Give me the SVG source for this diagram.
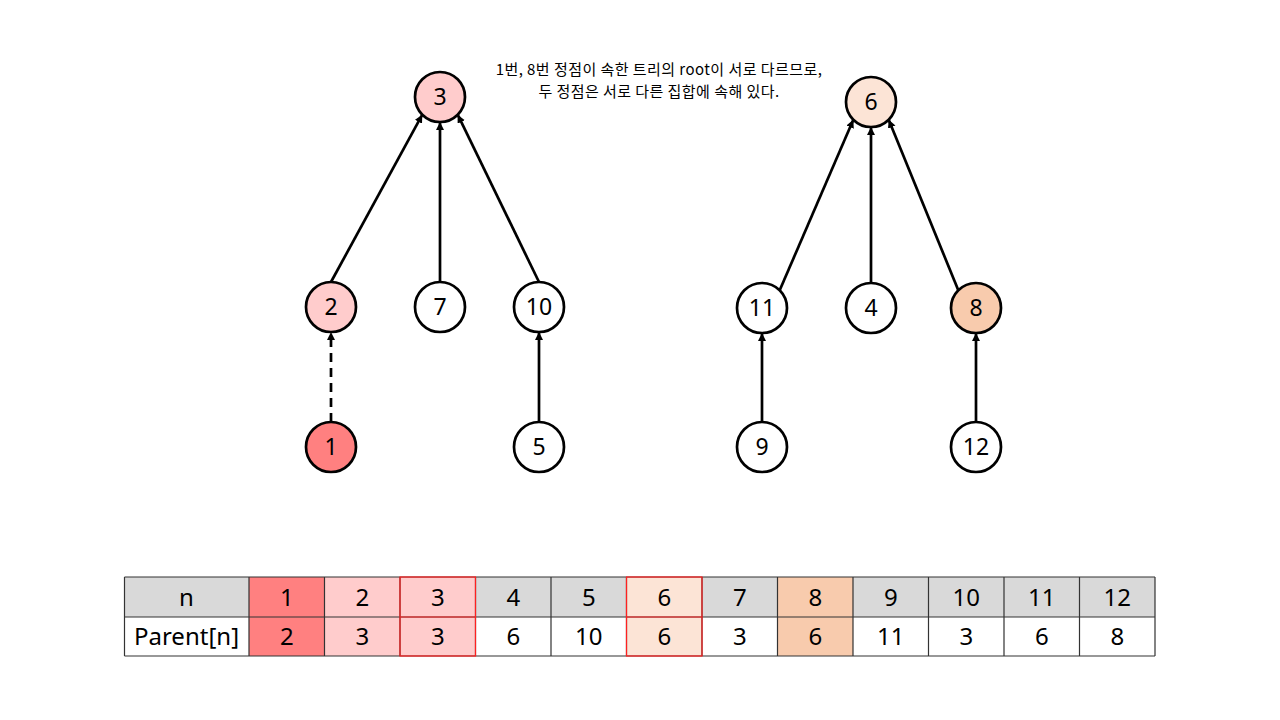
<svg xmlns="http://www.w3.org/2000/svg" width="1280" height="720" viewBox="0 0 1280 720">
<style>
.node circle{stroke:#000;stroke-width:2.7}
.node text{font-family:"Noto Sans","Noto Sans CJK KR",sans-serif;font-size:23px;text-anchor:middle;fill:#000}
.edge{stroke:#000;stroke-width:2.7;fill:none;marker-end:url(#arr)}
.dash{stroke-dasharray:9 6}
.cap{font-family:"Noto Sans CJK KR","Noto Sans",sans-serif;font-size:15px;letter-spacing:0.45px;text-anchor:middle;fill:#000}
.tt{font-family:"Noto Sans","Noto Sans CJK KR",sans-serif;font-size:24px;text-anchor:middle;fill:#000}
.grid{stroke:#333;stroke-width:1.2;fill:none}
.red{stroke:#ff2020;stroke-width:1.2;fill:none}
</style>
<defs>
<marker id="arr" markerUnits="userSpaceOnUse" markerWidth="10" markerHeight="10" refX="8" refY="4" orient="auto">
<path d="M0,0 L8,4 L0,8 z" fill="#000"/>
</marker>
</defs>
<rect width="1280" height="720" fill="#fff"/>
<g id="caption">
<text class="cap" x="659" y="74.5">1번, 8번 정점이 속한 트리의 root이 서로 다르므로,</text>
<text class="cap" x="659" y="96.5">두 정점은 서로 다른 집합에 속해 있다.</text>
</g>
<g id="connectors">
<line class="edge" x1="331" y1="282" x2="422.3" y2="114.7"/>
<line class="edge" x1="440" y1="282" x2="440" y2="122"/>
<line class="edge" x1="539" y1="282" x2="457.7" y2="114.7"/>
<line class="edge dash" x1="331" y1="422" x2="331" y2="332"/>
<line class="edge" x1="539" y1="422" x2="539" y2="332"/>
<line class="edge" x1="779.7" y1="290.3" x2="853.3" y2="119.7"/>
<line class="edge" x1="871" y1="283" x2="871" y2="127"/>
<line class="edge" x1="958.3" y1="290.3" x2="888.7" y2="119.7"/>
<line class="edge" x1="762" y1="422" x2="762" y2="333"/>
<line class="edge" x1="976" y1="422" x2="976" y2="333"/>
</g>
<g id="n3" class="node"><circle cx="440" cy="97" r="25" fill="#ffcccc"/><text x="440" y="105">3</text></g>
<g id="n2" class="node"><circle cx="331" cy="307" r="25" fill="#ffcccc"/><text x="331" y="315">2</text></g>
<g id="n7" class="node"><circle cx="440" cy="307" r="25" fill="#fff"/><text x="440" y="315">7</text></g>
<g id="n10" class="node"><circle cx="539" cy="307" r="25" fill="#fff"/><text x="539" y="315">10</text></g>
<g id="n1" class="node"><circle cx="331" cy="447" r="25" fill="#ff8080"/><text x="331" y="455">1</text></g>
<g id="n5" class="node"><circle cx="539" cy="447" r="25" fill="#fff"/><text x="539" y="455">5</text></g>
<g id="n6" class="node"><circle cx="871" cy="102" r="25" fill="#fce4d6"/><text x="871" y="110">6</text></g>
<g id="n11" class="node"><circle cx="762" cy="308" r="25" fill="#fff"/><text x="762" y="316">11</text></g>
<g id="n4" class="node"><circle cx="871" cy="308" r="25" fill="#fff"/><text x="871" y="316">4</text></g>
<g id="n8" class="node"><circle cx="976" cy="308" r="25" fill="#f8cbad"/><text x="976" y="316">8</text></g>
<g id="n9" class="node"><circle cx="762" cy="447" r="25" fill="#fff"/><text x="762" y="455">9</text></g>
<g id="n12" class="node"><circle cx="976" cy="447" r="25" fill="#fff"/><text x="976" y="455">12</text></g>
<g id="table">
<rect x="124.5" y="577" width="1030.5" height="40" fill="#d9d9d9"/>
<rect x="124.5" y="617" width="1030.5" height="39" fill="#fff"/>
<rect x="249" y="577" width="75.5" height="79" fill="#ff8080"/>
<rect x="324.5" y="577" width="151" height="79" fill="#ffcccc"/>
<rect x="626.5" y="577" width="75.5" height="79" fill="#fce4d6"/>
<rect x="777.5" y="577" width="75.5" height="79" fill="#f8cbad"/>
<path class="grid" d="M124.5,577H1155M124.5,617H1155M124.5,656H1155M124.5,577V656M249,577V656M324.5,577V656M400,577V656M475.5,577V656M551,577V656M626.5,577V656M702,577V656M777.5,577V656M853,577V656M928.5,577V656M1004,577V656M1079.5,577V656M1155,577V656"/>
<rect class="red" x="400" y="577" width="75.5" height="79"/>
<line class="red" x1="400" y1="617" x2="475.5" y2="617"/>
<rect class="red" x="626.5" y="577" width="75.5" height="79"/>
<line class="red" x1="626.5" y1="617" x2="702" y2="617"/>
<text class="tt" x="186.5" y="606">n</text>
<text class="tt" x="186.5" y="645">Parent[n]</text>
<text class="tt" x="286.75" y="606">1</text><text class="tt" x="286.75" y="645">2</text>
<text class="tt" x="362.25" y="606">2</text><text class="tt" x="362.25" y="645">3</text>
<text class="tt" x="437.75" y="606">3</text><text class="tt" x="437.75" y="645">3</text>
<text class="tt" x="513.25" y="606">4</text><text class="tt" x="513.25" y="645">6</text>
<text class="tt" x="588.75" y="606">5</text><text class="tt" x="588.75" y="645">10</text>
<text class="tt" x="664.25" y="606">6</text><text class="tt" x="664.25" y="645">6</text>
<text class="tt" x="739.75" y="606">7</text><text class="tt" x="739.75" y="645">3</text>
<text class="tt" x="815.25" y="606">8</text><text class="tt" x="815.25" y="645">6</text>
<text class="tt" x="890.75" y="606">9</text><text class="tt" x="890.75" y="645">11</text>
<text class="tt" x="966.25" y="606">10</text><text class="tt" x="966.25" y="645">3</text>
<text class="tt" x="1041.75" y="606">11</text><text class="tt" x="1041.75" y="645">6</text>
<text class="tt" x="1117.25" y="606">12</text><text class="tt" x="1117.25" y="645">8</text>
</g>
</svg>
